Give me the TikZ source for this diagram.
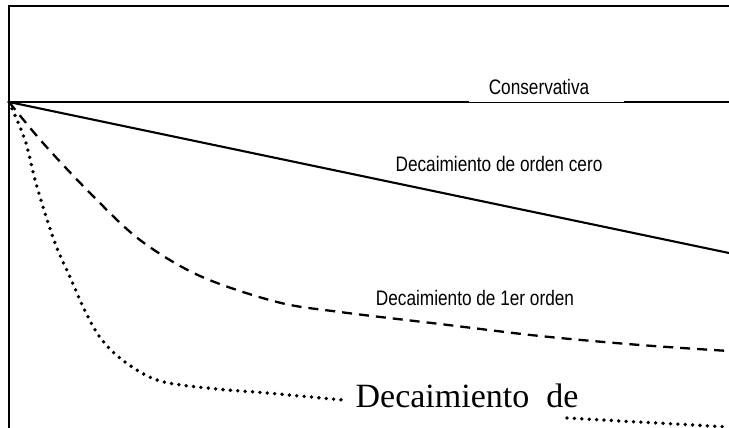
\documentclass[tikz,border=0pt]{standalone}
\usepackage{fontspec}
\setmainfont{Liberation Serif}
\newfontfamily\arialfont{Liberation Sans}
\begin{document}
\begin{tikzpicture}[x=1pt,y=-1pt,
  axisline/.style={line width=2.1pt},
  curvesolid/.style={line width=2.1pt},
  curvedash/.style={line width=2.3pt,dash pattern=on 10pt off 7pt},
  curvedot/.style={line width=3.8pt,line cap=round,dash pattern=on 0pt off 7.4pt},
  smalllabel/.style={font=\arialfont\fontsize{21}{23}\selectfont,xscale=0.82,inner sep=0pt},
  biglabel/.style={font=\fontsize{34}{38}\selectfont,inner sep=0pt}]
\useasboundingbox (0,0) rectangle (729,428);
% frame
\coordinate (bl) at (9,428);
\coordinate (tl) at (9,6);
\coordinate (tr) at (729,6);
\draw[axisline] (bl) -- (tl) -- (tr);
% origin and conservative line
\coordinate (o) at (9,102);
\coordinate (ga) at (469,102);
\coordinate (gb) at (624,102);
\coordinate (cr) at (729,102);
\draw[axisline] (o) -- (ga);
\draw[line width=0.9pt] (ga) -- (gb);
\draw[axisline] (gb) -- (cr);
\node[smalllabel] (lcons) at (539,87) {Conservativa};
% zero order
\coordinate (zr) at (729,253);
\draw[curvesolid] (o) -- (zr);
\node[smalllabel] (lzero) at (499,164) {Decaimiento de orden cero};
% first order
\draw[curvedash] plot[smooth,tension=0.55] coordinates {(9,102) (43,143) (90,193) (140,240) (200,276) (277,302) (340,312) (440,324) (540,336) (640,345) (729,351)};
\node[smalllabel] (lfirst) at (475,298) {Decaimiento de 1er orden};
% second order
\draw[curvedot] plot[smooth,tension=0.55] coordinates {(9,102) (25,140) (37,187) (55,243) (70,277) (86,313) (102,340) (125,362) (160,381) (217,389) (267,393) (343,400)};
\coordinate (da) at (567,418);
\coordinate (db) at (729,427);
\draw[curvedot] (da) -- (db);
\node[biglabel] (lsecond) at (467,396) {Decaimiento\ \ de};
\end{tikzpicture}
\end{document}
